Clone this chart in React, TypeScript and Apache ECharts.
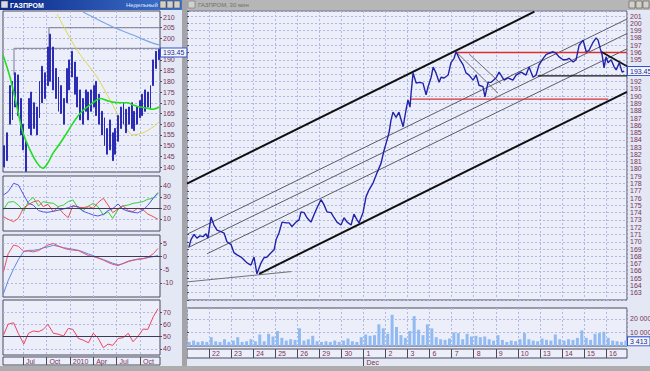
import React, { useEffect, useRef } from "react";
import * as echarts from "echarts";

// ---------- left window (weekly) ----------
const quarterTicks = [6, 9, 12, 15, 18, 21];
const quarterLabels = ["Jul", "Oct", "2010", "Apr", "Jul", "Oct"];
const weekLow = [140,143,160,162,168,164,155,148,138,158,155,158,155,163,170,172,178,180,176,172,166,165,160,170,176,182,174,168,162,160,166,162,166,168,164,160,155,150,146,148,143,146,152,158,160,156,160,158,157,160,163,164,166,168,167,178,186,190];
const weekHigh = [150,156,178,180,184,183,172,160,152,172,175,170,168,180,187,184,196,202,196,186,182,178,172,186,190,194,189,182,176,172,176,175,176,178,180,174,166,163,158,162,156,158,164,168,170,167,168,170,166,168,171,174,176,175,178,190,194,195];
const leftPriceTicks = [140,145,150,155,160,165,170,175,180,185,190,195,200,205,210];
const leftPriceLabels = [140,145,150,155,160,165,170,175,180,185,190,200,205,210];
const maLine = [[3.44,192.3],[4.33,182],[5.23,168],[6,156],[6.9,148],[7.79,142],[8.56,139.5],[9.2,142],[9.85,146.5],[10.74,151],[11.64,156],[12.41,160.5],[13.31,165],[14.21,168],[14.97,170],[15.87,172],[16.77,171],[17.54,170.3],[18.44,170],[19.33,170],[20.1,169],[21,168],[21.9,167.5],[22.67,167],[23.44,168]];
const yellowLine = [[10.36,211.4],[12.92,194.6],[15.49,182],[17.15,171.3],[18.82,160.5],[20.1,155],[21.38,156],[22.67,158.7],[23.44,161]];
const lightBlueLine = [[13.69,212.3],[17.54,205.3],[20.1,201.6],[22.28,198.3],[23.44,197]];
const rangeBoxA = [[9.33,195.4],[9.33,205],[23.56,205]];
const rangeBoxB = [[4.85,182.9],[4.85,195.4],[23.56,195.4]];
const lastWeekly = 193.45;

const oscMonths = [3.5,4.1,4.8,5.4,6.1,6.7,7.3,8.0,8.6,9.2,9.9,10.5,11.2,11.8,12.4,13.1,13.7,14.4,15.0,15.6,16.3,16.9,17.5,18.2,18.8,19.5,20.1,20.7,21.4,22.0,22.7,23.3];
const osc1Blue = [31.8,34.8,42.4,40.9,31.8,24.2,22.7,17.6,16.4,16.1,17.0,17.9,19.1,20.3,21.8,21.2,17.0,15.2,13.6,12.7,14.2,17.6,19.4,23.6,18.8,17.0,16.1,15.5,18.2,22.4,28.8,33.3];
const osc1Red = [12.1,9.7,7.6,10.6,20.3,23.0,25.5,26.7,21.2,23.3,16.7,20.6,14.8,11.2,22.1,20.6,20.3,21.2,19.7,24.8,28.8,22.7,15.8,19.1,22.1,17.6,16.7,19.7,18.2,14.5,12.1,9.7];
const osc1Green = [18.2,25.2,25.8,22.7,17.0,25.8,29.7,21.8,25.8,24.8,24.2,21.2,22.7,25.8,27.3,19.7,17.6,21.8,24.2,21.2,13.6,16.7,10.6,18.8,21.8,22.7,24.2,24.8,25.8,27.9,28.8,34.2];
const osc2Blue = [-14.1,-9.2,-4.7,-1.3,1.9,2.3,2.3,2.6,3.2,3.6,4.2,3.8,3.3,3.0,2.7,2.3,1.7,0.9,0.3,-0.5,-1.2,-1.9,-2.6,-3.2,-2.8,-2.0,-1.5,-1.0,-0.8,-0.5,-0.1,0.3];
const osc2Red = [-5.8,1.0,4.3,3.8,1.9,2.0,1.7,2.2,3.3,4.3,4.9,4.0,3.1,2.6,2.4,2.2,1.3,0.3,-0.1,-0.6,-1.4,-2.3,-3.0,-3.5,-2.7,-1.8,-1.4,-1.2,-0.9,-0.4,1.0,3.0];
const osc3Red = [51.3,60.2,61.3,52.7,44.0,52.7,54.6,54.0,55.9,60.0,52.7,52.1,50.5,56.7,55.9,48.6,47.2,45.0,52.7,49.1,41.0,44.0,42.9,48.6,49.1,52.7,45.9,49.9,56.2,55.9,66.2,72.7];

// ---------- right window (30 min) ----------
const dayTicks = [1,2,3,4,5,6,7,8,9,10,11,12,13,14,15,16,17,18,19];
const dayLabels = ["22","23","24","25","26","29","30","1","2","3","6","7","8","9","10","13","14","15","16"];
const intradayDay = [0.09,0.18,0.32,0.45,0.59,0.73,0.86,0.95,1.09,1.22,1.36,1.54,1.68,1.81,2.00,2.13,2.27,2.45,2.59,2.72,2.90,3.04,3.17,3.36,3.49,3.63,3.81,3.95,4.04,4.17,4.31,4.49,4.63,4.76,4.94,5.08,5.17,5.31,5.44,5.62,5.76,5.90,6.08,6.21,6.35,6.53,6.67,6.80,6.98,7.12,7.26,7.44,7.57,7.71,7.80,7.98,8.12,8.25,8.44,8.62,8.80,8.93,9.07,9.16,9.25,9.34,9.48,9.61,9.80,9.93,10.02,10.11,10.16,10.25,10.39,10.52,10.70,10.84,10.93,11.07,11.16,11.29,11.43,11.52,11.66,11.84,11.97,12.11,12.20,12.34,12.52,12.65,12.79,12.97,13.11,13.24,13.42,13.51,13.65,13.79,14.01,14.15,14.38,14.56,14.78,14.92,15.15,15.37,15.51,15.69,15.83,15.96,16.15,16.28,16.42,16.60,16.73,16.87,17.05,17.19,17.32,17.51,17.64,17.78,17.96,18.10,18.23,18.41,18.55,18.64,18.73,18.82,18.91,19.00,19.09,19.23,19.37,19.46,19.60,19.73,19.82];
const intradayClose = [169.3,170.3,171.0,170.5,170.8,170.7,171.1,170.5,173.4,172.3,171.6,171.4,171.2,170.0,169.6,168.5,168.2,167.9,167.5,167.1,166.8,167.9,165.6,167.1,167.8,167.9,168.5,168.9,170.3,171.2,172.7,172.6,172.6,172.1,172.7,173.0,174.1,174.0,173.3,172.7,173.7,174.7,175.8,175.1,174.1,174.0,173.3,172.7,172.3,173.3,172.7,172.3,173.8,173.0,172.6,174.0,176.2,177.1,178.1,179.5,180.8,182.5,184.0,185.0,186.7,187.8,187.1,187.8,185.8,188.1,189.5,188.5,190.4,193.2,191.8,191.9,191.8,190.2,191.3,192.6,194.0,193.2,191.9,192.6,192.5,192.9,194.6,195.2,196.1,195.2,194.3,193.2,192.9,192.2,192.9,191.5,191.3,189.9,191.9,191.9,192.5,193.3,192.2,192.5,192.2,192.9,193.3,192.9,194.0,192.6,192.9,194.3,195.2,195.7,195.9,196.1,195.9,195.4,195.0,195.0,195.2,194.7,195.0,197.0,197.7,196.1,196.3,197.4,198.0,197.7,196.6,195.7,193.9,195.4,194.6,195.0,194.0,193.6,194.6,193.3,193.45];
const volDay = [0.1,0.3,0.5,0.7,0.9,1.1,1.3,1.5,1.7,1.9,2.1,2.3,2.5,2.7,2.9,3.1,3.3,3.5,3.7,3.9,4.1,4.3,4.5,4.7,4.9,5.1,5.3,5.5,5.7,5.9,6.1,6.3,6.5,6.7,6.9,7.1,7.3,7.5,7.7,7.9,8.1,8.3,8.5,8.7,8.9,9.1,9.3,9.5,9.7,9.9,10.1,10.3,10.5,10.7,10.9,11.1,11.3,11.5,11.7,11.9,12.1,12.3,12.5,12.7,12.9,13.1,13.3,13.5,13.7,13.9,14.1,14.3,14.5,14.7,14.9,15.1,15.3,15.5,15.7,15.9,16.1,16.3,16.5,16.7,16.9,17.1,17.3,17.5,17.7,17.9,18.1,18.3,18.5,18.7,18.9,19.1,19.3,19.5,19.7,19.9];
const volume = [3000,4000,3000,3500,3000,6500,3500,3000,5000,3000,4000,6500,3000,3500,5000,3500,8500,3500,9000,7000,11000,6000,4000,5000,4500,13000,4000,5000,7500,3500,3000,3500,3000,4000,3000,4000,5500,3500,3000,6500,8500,7500,8000,16000,13000,9000,23000,14000,8000,6000,11000,22000,12000,8000,16000,13000,6500,5000,4500,5500,10000,9500,5000,9000,7000,7500,6500,7000,5000,4000,8000,4500,3000,4000,3500,5000,9500,5000,4000,3500,5500,4500,4000,8500,5000,4000,5000,4500,6000,11500,6000,4500,9000,9500,10500,6000,4000,3500,3000,4000];
const hiddenPriceLabels = [193, 194];
const lastPrice = 193.45;
const lastVolume = 3413;
const channelUpper = [[0, 178.0], [15.75, 201.6]];
const channelLower = [[3.27, 165.6], [19.95, 190.6]];
const midLine1 = [[0.05, 171.1], [19.95, 200.6]];
const midLine2 = [[0.05, 169.2], [19.95, 198.6]];
const midLine3 = [[0.91, 168.35], [19.95, 196.5]];
const supportLow = [[0.05, 164.5], [4.72, 165.9]];
const resistRed = [[12.2, 196.0], [19.95, 196.0]];
const supportRed = [[10.16, 189.6], [19.1, 189.6]];
const supportBlack = [[15.9, 192.8], [19.95, 192.8]];
const fallBlack = [[18.78, 196.1], [19.95, 194.1]];
const fallGrayA = [[12.2, 196.1], [14.1, 190.4]];
const fallGrayB = [[12.79, 195.8], [14.24, 191.7]];

const MONTH_MIN = 3.44;
const MONTH_MAX = 23.56;
const DAY_MAX = 19.95;
const LABEL = "#7a3358";
const GRIDLINE = "#b0b9e4";
const FRAME = "#4a4a5e";
const PLOTBG = "#eceffa";
const FONT = "Liberation Sans";

const zip = (xs: number[], ys: number[]) => xs.map((x, i) => [x, ys[i]]);

function buildOption(): any {
  const gridBase = { show: true, backgroundColor: PLOTBG, borderColor: FRAME, borderWidth: 1, containLabel: false, outerBoundsMode: "none" };
  const grids = [
    { ...gridBase, left: 3, top: 11, width: 157, height: 161 },
    { ...gridBase, left: 3, top: 176, width: 157, height: 55 },
    { ...gridBase, left: 3, top: 235, width: 157, height: 62 },
    { ...gridBase, left: 3, top: 300, width: 157, height: 55 },
    { ...gridBase, left: 3, top: 357, width: 157, height: 8 },
    { ...gridBase, left: 187, top: 11, width: 440, height: 289 },
    { ...gridBase, left: 187, top: 308, width: 440, height: 38 },
    { ...gridBase, left: 187, top: 349, width: 440, height: 9 },
  ];
  const split = { show: true, lineStyle: { color: GRIDLINE, type: [2, 2], width: 1 } };
  const monthAxis = (gridIndex: number) => ({
    type: "value", gridIndex, min: MONTH_MIN, max: MONTH_MAX,
    axisLine: { show: false },
    axisTick: { show: false, customValues: quarterTicks },
    axisLabel: { show: false },
    splitLine: split,
  });
  const dayAxis = (gridIndex: number) => ({
    type: "value", gridIndex, min: 0, max: DAY_MAX, interval: 1,
    axisLine: { show: false }, axisTick: { show: false }, axisLabel: { show: false },
    splitLine: split,
  });
  const leftY = (gridIndex: number, min: number, max: number, ticks: number[], labels?: number[]) => ({
    type: "value", gridIndex, position: "right", min, max,
    axisLine: { show: false },
    axisTick: { show: true, length: 2, customValues: ticks, lineStyle: { color: FRAME } },
    axisLabel: { show: true, customValues: labels ?? ticks, fontSize: 7, color: LABEL, margin: 3, fontFamily: FONT },
    splitLine: split,
  });

  const xAxis = [
    monthAxis(0),
    { type: "category", gridIndex: 0, data: weekLow.map((_, i) => "w" + (i + 1)), show: false, position: "top", boundaryGap: true },
    monthAxis(1),
    monthAxis(2),
    monthAxis(3),
    {
      type: "value", gridIndex: 4, min: MONTH_MIN, max: MONTH_MAX,
      axisLine: { show: false },
      axisTick: { show: true, inside: true, length: 8, customValues: quarterTicks, lineStyle: { color: FRAME } },
      axisLabel: { show: true, inside: true, customValues: quarterTicks, formatter: (v: number) => quarterLabels[quarterTicks.indexOf(v)] ?? "", align: "left", verticalAlign: "bottom", padding: [0, 0, 0, 3], margin: 0, fontSize: 7, color: LABEL, fontFamily: FONT },
      splitLine: { show: false },
    },
    dayAxis(5),
    dayAxis(6),
    {
      type: "value", gridIndex: 7, min: 0, max: DAY_MAX, position: "bottom",
      axisLine: { show: false },
      axisTick: { show: true, inside: true, length: 9, customValues: dayTicks, lineStyle: { color: FRAME } },
      axisLabel: { show: true, inside: true, customValues: dayTicks, formatter: (v: number) => dayLabels[dayTicks.indexOf(v)] ?? "", align: "left", verticalAlign: "bottom", padding: [0, 0, 0, 3], margin: 1, fontSize: 7, color: LABEL, fontFamily: FONT },
      splitLine: { show: false },
    },
    {
      type: "value", gridIndex: 7, min: 0, max: DAY_MAX, position: "bottom",
      axisLine: { show: false },
      axisTick: { show: true, length: 8, customValues: [8], lineStyle: { color: FRAME } },
      axisLabel: { show: true, customValues: [8], formatter: () => "Dec", align: "left", verticalAlign: "top", padding: [0, 0, 0, 3], margin: 1, fontSize: 7, color: LABEL, fontFamily: FONT },
      splitLine: { show: false },
    },
  ];

  const yAxis = [
    leftY(0, 137.7, 212.8, leftPriceTicks, leftPriceLabels),
    leftY(1, -0.9, 49, [10, 20, 30, 40]),
    leftY(2, -15.4, 8.1, [-10, -5, 0, 5]),
    leftY(3, 35.1, 79.8, [40, 50, 60, 70]),
    { type: "value", gridIndex: 4, show: false },
    {
      type: "value", gridIndex: 5, position: "right", min: 162, max: 201.7, interval: 1,
      axisLine: { show: false },
      axisTick: { show: true, length: 2, lineStyle: { color: FRAME } },
      axisLabel: {
        show: true, fontSize: 7, color: LABEL, margin: 3, fontFamily: FONT,
        formatter: (v: number) => (Number.isInteger(v) && v >= 163 && v <= 201 && hiddenPriceLabels.indexOf(v) < 0 ? String(v) : ""),
      },
      splitLine: split,
    },
    {
      type: "value", gridIndex: 6, position: "right", min: 0, max: 28000,
      axisLine: { show: false },
      axisTick: { show: true, length: 2, customValues: [10000, 20000], lineStyle: { color: FRAME } },
      axisLabel: { show: true, customValues: [10000, 20000], formatter: (v: number) => v / 1000 + " 000", fontSize: 7, color: LABEL, margin: 3, fontFamily: FONT },
      splitLine: split,
    },
    { type: "value", gridIndex: 7, show: false },
  ];

  const priceTag = (text: string) => ({
    symbol: "none", silent: true,
    lineStyle: { color: "rgba(0,0,0,0)", width: 0 },
    label: { show: true, position: "end", distance: 1, formatter: text, fontSize: 7, fontFamily: FONT, color: "#1a2a88", backgroundColor: "#f4f6ff", borderColor: "#3654c8", borderWidth: 1, padding: [1, 2, 0, 2], opacity: 1 },
  });
  const baseLine = (v: number) => ({
    symbol: "none", silent: true,
    lineStyle: { color: "#3c3c58", type: "solid", width: 1 },
    label: { show: false },
    data: [{ yAxis: v }],
  });
  const leftLine = (xi: number, yi: number, data: any[], color: string, width = 1, extra: any = {}) => ({
    type: "line", xAxisIndex: xi, yAxisIndex: yi, data, symbol: "none", silent: true,
    lineStyle: { color, width }, z: 3, ...extra,
  });
  const trend = (data: number[][], color: string, width: number) => ({
    type: "line", xAxisIndex: 6, yAxisIndex: 5, data, symbol: "none", silent: true,
    lineStyle: { color, width }, z: 3,
  });

  const series: any[] = [
    leftLine(0, 0, rangeBoxA, "#7a7a90", 1),
    leftLine(0, 0, rangeBoxB, "#7a7a90", 1),
    {
      type: "candlestick", xAxisIndex: 1, yAxisIndex: 0, barWidth: 1.4, silent: true,
      data: weekLow.map((l, i) => [l, weekHigh[i], l, weekHigh[i]]),
      itemStyle: { color: "#2c2cb4", color0: "#2c2cb4", borderColor: "#2c2cb4", borderColor0: "#2c2cb4", borderWidth: 1 },
      z: 4,
    },
    leftLine(0, 0, yellowLine, "#e0d84a", 1, { smooth: 0.3 }),
    leftLine(0, 0, lightBlueLine, "#7aa6e6", 1.2, { smooth: 0.3 }),
    leftLine(0, 0, maLine, "#22dd22", 1.6, { smooth: 0.4, z: 5, markLine: { ...priceTag(lastWeekly.toFixed(2)), data: [{ yAxis: lastWeekly }] } }),
    leftLine(2, 1, zip(oscMonths, osc1Green), "#34d034", 1),
    leftLine(2, 1, zip(oscMonths, osc1Red), "#e85050", 1),
    leftLine(2, 1, zip(oscMonths, osc1Blue), "#5454e4", 1, { markLine: baseLine(20) }),
    leftLine(3, 2, zip(oscMonths, osc2Blue), "#5a86ec", 1, { markLine: baseLine(0) }),
    leftLine(3, 2, zip(oscMonths, osc2Red), "#e8506a", 1),
    leftLine(4, 3, zip(oscMonths, osc3Red), "#ec4462", 1, { markLine: baseLine(50) }),

    trend(midLine1, "#5c5c66", 1),
    trend(midLine2, "#5c5c66", 1),
    trend(midLine3, "#5c5c66", 1),
    trend(supportLow, "#707078", 1),
    trend(fallGrayA, "#6a6a72", 1),
    trend(fallGrayB, "#6a6a72", 1),
    trend(resistRed, "#d83030", 1.3),
    trend(supportRed, "#d83030", 1.3),
    trend(supportBlack, "#151515", 1.3),
    trend(fallBlack, "#151515", 1.8),
    trend(channelUpper, "#111111", 2),
    trend(channelLower, "#111111", 2),
    {
      type: "line", xAxisIndex: 6, yAxisIndex: 5, data: zip(intradayDay, intradayClose),
      symbol: "none", silent: true, z: 6,
      lineStyle: { color: "#2222aa", width: 1.4 },
      markLine: { ...priceTag(lastPrice.toFixed(2)), data: [{ yAxis: lastPrice }] },
    },
    {
      type: "bar", xAxisIndex: 7, yAxisIndex: 6, data: zip(volDay, volume), barWidth: 3, silent: true,
      itemStyle: { color: "#92baf2" },
      markLine: { ...priceTag("3 413"), data: [{ yAxis: lastVolume }] },
    },
  ];

  const btn = (x: number) => ({ type: "rect", shape: { x, y: 1, width: 6, height: 7 }, style: { fill: "#d4d0c8", stroke: "#404040", lineWidth: 0.5 } });
  const graphic = [
    { type: "rect", shape: { x: 0, y: 0, width: 182, height: 10 }, style: { fill: { type: "linear", x: 0, y: 0, x2: 1, y2: 0, colorStops: [{ offset: 0, color: "#0a2a8a" }, { offset: 1, color: "#3f74cc" }] } } },
    { type: "rect", shape: { x: 1, y: 1, width: 7, height: 7 }, style: { fill: "#d8d8e0", stroke: "#303060", lineWidth: 0.5 } },
    { type: "text", x: 10, y: 1.5, style: { text: "ГАЗПРОМ", fill: "#ffffff", fontSize: 7, fontWeight: "bold", fontFamily: FONT } },
    { type: "text", x: 126, y: 2, style: { text: "Недельный", fill: "#e0e8ff", fontSize: 6, fontFamily: FONT } },
    btn(160), btn(167), btn(174),
    { type: "rect", shape: { x: 182, y: 0, width: 5, height: 371 }, style: { fill: "#a4a4a8" } },
    { type: "rect", shape: { x: 187, y: 0, width: 463, height: 10 }, style: { fill: "#b6b6b6" } },
    { type: "rect", shape: { x: 188, y: 1, width: 7, height: 7 }, style: { fill: "#d0d0d0", stroke: "#606060", lineWidth: 0.5 } },
    { type: "text", x: 198, y: 2, style: { text: "ГАЗПРОМ, 30 мин", fill: "#707070", fontSize: 6, fontFamily: FONT } },
    btn(629), btn(636), btn(643),
    { type: "rect", shape: { x: 0, y: 366, width: 650, height: 5 }, style: { fill: "#adadad" } },
  ];

  return {
    animation: false,
    backgroundColor: "#e4e7f4",
    textStyle: { fontFamily: FONT },
    grid: grids,
    xAxis,
    yAxis,
    series,
    graphic,
  };
}

export default function App() {
  const ref = useRef<HTMLDivElement>(null);
  useEffect(() => {
    if (!ref.current) return;
    const chart = echarts.init(ref.current, null, { renderer: "svg" });
    chart.setOption(buildOption());
    return () => chart.dispose();
  }, []);
  return <div ref={ref} style={{ position: "fixed", left: 0, top: 0, width: 650, height: 371 }} />;
}
